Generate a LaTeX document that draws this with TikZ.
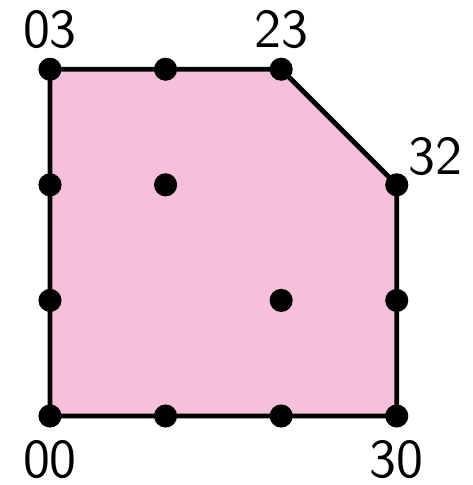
\documentclass[tikz,border=0pt]{standalone}
\usepackage{tikz}
\usetikzlibrary{positioning}
\definecolor{polyfill}{RGB}{246,192,218}
\tikzset{latt/.style={circle,fill=black,inner sep=0pt,minimum size=2mm},
  lab/.style={font=\sffamily\fontsize{13.5}{16}\selectfont,inner sep=0pt},
  rim/.style={line width=1.2pt,draw=black,line join=miter}}
\begin{document}
\begin{tikzpicture}[x=1cm,y=1cm]
\useasboundingbox (-0.4325,-0.597) rectangle (3.659,3.599);
% Corners of the polygon.
\foreach \x/\y in {0/0,3/0,3/2,2/3,0/3}{
  \coordinate (c\x\y) at (\x,\y);
}
\fill[polyfill] (c00)--(c30)--(c32)--(c23)--(c03)--cycle;
\draw[rim] (c00)--(c30)--(c32)--(c23)--(c03)--cycle;

% Lattice points on the boundary and inside.
\foreach \x/\y in {0/0,1/0,2/0,3/0,3/1,3/2,2/3,1/3,0/3,0/2,0/1,1/2,2/1}{
  \node[latt] (p\x\y) at (\x,\y) {};
}

% Vertex labels.
\node[lab,above=0.06cm of p03] (l03) {03};
\node[lab,above=0.06cm of p23] (l23) {23};
\node[lab,above right=0cm and 0.02cm of p32] (l32) {32};
\node[lab,below=0.10cm of p00] (l00) {00};
\node[lab,below=0.10cm of p30] (l30) {30};
\end{tikzpicture}
\end{document}
